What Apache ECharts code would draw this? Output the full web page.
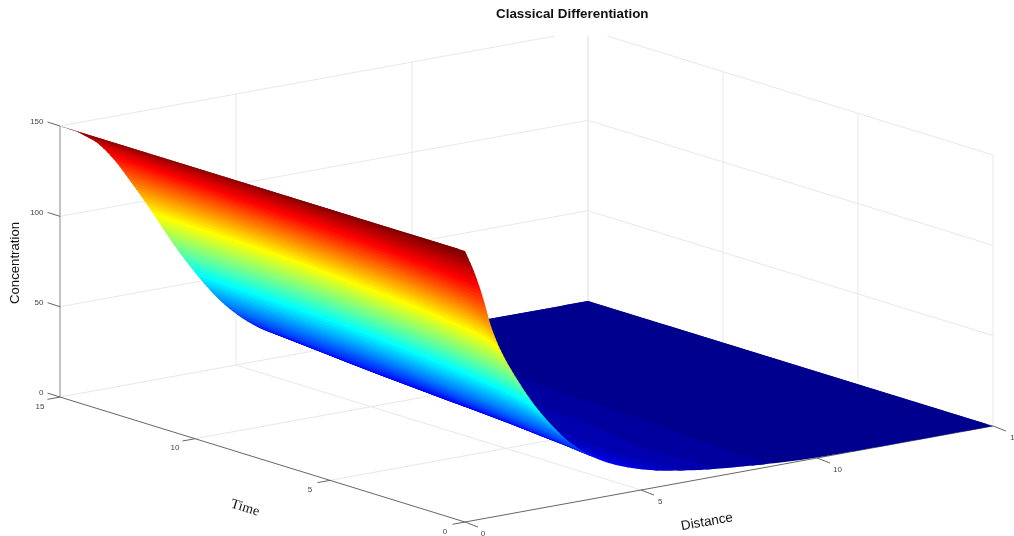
<!DOCTYPE html>
<html><head><meta charset="utf-8">
<style>html,body{margin:0;padding:0;background:#fff}#c{width:1014px;height:536px}</style>
<script src="https://cdn.jsdelivr.net/npm/echarts@6/dist/echarts.min.js"></script>
</head><body><div id="c"></div>
<script>
const chartTitle = 'Classical Differentiation';
const distanceTicks = [0, 5, 10, 15];
const timeTicks = [0, 5, 10, 15];
const concentrationTicks = [0, 50, 100, 150];
const distances = [0, .25, .5, .75, 1, 1.5, 2, 2.5, 3, 3.5, 4, 4.5, 5, 5.5, 6, 7, 8, 9, 10, 12, 15];
const times = [0, 1, 2.5, 5, 10, 15];
const concAtT0  = [150, 138, 123, 105, 92, 73, 57, 44, 33, 25, 19, 14.8, 11.5, 9, 7.2, 4.4, 2.6, 1.2, .3, 0, 0];
const concAtT1  = [150, 143, 130, 118, 107, 87, 68, 52, 39.5, 29, 20.5, 15.3, 11.5, 8.7, 6.8, 4.3, 2.7, 1.3, .4, 0, 0];
const concAtT2p5= [150, 146, 137, 127, 117, 98, 79, 61, 46.5, 33.5, 24, 17, 12, 8.8, 6.5, 4.2, 2.8, 1.4, .4, 0, 0];
const concAtT5  = [150, 147.3, 142, 135, 127, 110, 92.5, 74, 57, 42, 30, 21, 14.5, 10, 7.5, 5, 3, 1.6, .5, 0, 0];
const concAtT10 = [150, 147.5, 144.5, 140, 134, 121, 106, 91, 74, 58, 43, 31, 20.5, 14, 9.7, 6, 3.8, 2, .7, 0, 0];
const concAtT15 = [150, 147.5, 145, 141.5, 138, 127, 112.5, 97, 80.5, 65, 51, 38.5, 28.5, 20.5, 14.5, 7, 4, 2.4, .8, 0, 0];
const concRows = [concAtT0, concAtT1, concAtT2p5, concAtT5, concAtT10, concAtT15];

const dMax = 15, tMax = 15, cMax = 150, colourLevels = 64;
// view: orthographic projection of (distance, time, concentration) onto the hidden 2D axes
function project(d, t, c) {
  return [465 + 35.2 * d - 27 * t, 522 - 6.4 * d - 8.33 * t - 1.807 * c];
}
function jet(i) {
  const b = i < 8 ? .5625 + .0625 * i : i <= 23 ? 1 : i <= 39 ? 1 - .0625 * (i - 23) : 0;
  const g = i < 8 ? 0 : i <= 23 ? (i - 7) * .0625 : i <= 39 ? 1 : i <= 55 ? 1 - (i - 39) * .0625 : 0;
  const r = i <= 23 ? 0 : i <= 39 ? (i - 23) * .0625 : i <= 55 ? 1 : 1 - (i - 55) * .0625;
  return `rgb(${Math.round(r*255)},${Math.round(g*255)},${Math.round(b*255)})`;
}
// monotone cubic drawing helper: the surface between read values is shaded smoothly
function slopes(xs, ys) {
  const n = xs.length, h = [], s = [], m = new Array(n);
  for (let i = 0; i < n - 1; i++) { h[i] = xs[i + 1] - xs[i]; s[i] = (ys[i + 1] - ys[i]) / h[i]; }
  m[0] = s[0]; m[n - 1] = s[n - 2];
  for (let i = 1; i < n - 1; i++) {
    if (s[i - 1] * s[i] <= 0) m[i] = 0;
    else { const w1 = 2 * h[i] + h[i - 1], w2 = h[i] + 2 * h[i - 1]; m[i] = (w1 + w2) / (w1 / s[i - 1] + w2 / s[i]); }
  }
  return m;
}
function hermite(xs, ys, m, x) {
  let i = 0;
  while (i < xs.length - 2 && x > xs[i + 1]) i++;
  const h = xs[i + 1] - xs[i], u = (x - xs[i]) / h, u2 = u * u, u3 = u2 * u;
  return (2*u3 - 3*u2 + 1) * ys[i] + (u3 - 2*u2 + u) * h * m[i] + (-2*u3 + 3*u2) * ys[i + 1] + (u3 - u2) * h * m[i + 1];
}
const rowSlopes = concRows.map(r => slopes(distances, r));
function conc(d, t) {
  const ys = concRows.map((r, j) => hermite(distances, r, rowSlopes[j], d));
  return hermite(times, ys, slopes(times, ys), t);
}
// distance at which concentration falls to a colour-band boundary
const isoCache = new Map();
function isoDistance(level, t) {
  if (level <= 0) return dMax;
  if (level >= colourLevels) return 0;
  const key = level + '|' + t;
  if (isoCache.has(key)) return isoCache.get(key);
  const target = level * cMax / colourLevels;
  let lo = 0, hi = dMax;
  for (let i = 0; i < 18; i++) {
    const mid = (lo + hi) / 2;
    if (conc(mid, t) > target) lo = mid; else hi = mid;
  }
  const res = (lo + hi) / 2;
  isoCache.set(key, res);
  return res;
}

// grid lines on floor and back walls
const gridData = [];
distanceTicks.forEach(d => { if (d > 0) gridData.push([d, 0, 0, d, tMax, 0]); });
timeTicks.forEach(t => { if (t > 0) gridData.push([0, t, 0, dMax, t, 0]); });
distanceTicks.forEach(d => { if (d > 0) gridData.push([d, tMax, 0, d, tMax, cMax]); });
timeTicks.forEach(t => gridData.push([dMax, t, 0, dMax, t, cMax]));
concentrationTicks.forEach(c => {
  if (c > 0) {
    gridData.push([0, tMax, c, dMax, tMax, c]);
    gridData.push([dMax, tMax, c, dMax, 0, c]);
  }
});
const axisData = [
  [0, 0, 0, dMax, 0, 0], [0, 0, 0, 0, tMax, 0], [0, tMax, 0, 0, tMax, cMax]
];
// colour bands of the surface, far (low concentration) to near (high)
const bandData = [];
for (let k = 0; k < colourLevels; k++) bandData.push([k]);

const tickData = [];
concentrationTicks.forEach(c => tickData.push([0, tMax, c, -12.5, -4]));
timeTicks.forEach(t => tickData.push([0, t, 0, -12.5, 2.3]));
distanceTicks.forEach(d => tickData.push([d, 0, 0, 13, 5]));

const tickLabels = [];
concentrationTicks.forEach(c => tickLabels.push([0, tMax, c, String(c), -16.5, -4, 'right']));
timeTicks.forEach(t => tickLabels.push([0, t, 0, String(t), -20, 9.5, 'center']));
distanceTicks.forEach(d => tickLabels.push([d, 0, 0, String(d), 18 + d * .25, 11.5, 'center']));

const TOP_CLIP = 36;
function clipSeg(a, b) {
  const clip = (p, q) => {
    if (p[1] >= TOP_CLIP) return p;
    const f = (TOP_CLIP - p[1]) / (q[1] - p[1]);
    return [p[0] + (q[0] - p[0]) * f, TOP_CLIP];
  };
  return [clip(a, b), clip(b, a)];
}
function seg(api, color, width) {
  const a = api.coord(project(api.value(0), api.value(1), api.value(2)));
  const b = api.coord(project(api.value(3), api.value(4), api.value(5)));
  const [p, q] = clipSeg(a, b);
  return { type: 'line', shape: { x1: p[0], y1: p[1], x2: q[0], y2: q[1] },
    style: { stroke: color, lineWidth: width, fill: null } };
}
const chart = echarts.init(document.getElementById('c'), null, { renderer: 'canvas' });
chart.setOption({
  animation: false,
  backgroundColor: '#fff',
  title: { text: chartTitle, left: 496, top: 8, padding: 0,
    textStyle: { fontFamily: 'Liberation Sans', fontSize: 13.4, fontWeight: 'bold', color: '#111' } },
  grid: { left: 0, right: 0, top: 0, bottom: 0 },
  xAxis: { type: 'value', min: 0, max: 1014, show: false },
  yAxis: { type: 'value', min: 0, max: 536, inverse: true, show: false },
  series: [
    { type: 'custom', name: 'grid', z: 1, silent: true, clip: false, data: gridData,
      renderItem: (p, api) => seg(api, '#e8e8e8', 1) },
    { type: 'custom', name: 'axes', z: 2, silent: true, clip: false, data: axisData,
      renderItem: (p, api) => seg(api, api.value(5) === cMax ? '#888' : '#666', 1) },
    { type: 'custom', name: 'ticks', z: 2, silent: true, clip: false, data: tickData,
      renderItem: (p, api) => {
        const a = api.coord(project(api.value(0), api.value(1), api.value(2)));
        return { type: 'line', shape: { x1: a[0], y1: a[1], x2: a[0] + api.value(3), y2: a[1] + api.value(4) },
          style: { stroke: '#666', lineWidth: 1, fill: null } };
      } },
    { type: 'custom', name: 'Concentration surface', z: 3, silent: true, clip: false,
      progressive: 0, data: bandData,
      renderItem: (p, api) => {
        const k = api.value(0), col = jet(k), children = [];
        const P = (d, t) => api.coord(project(d, t, conc(d, t)));
        const step = 0.25, slices = Math.round(tMax / step);
        // each slice overlaps what was already painted behind it, so no seams show
        const farLevel = k === 0 ? 0 : k - 0.25;
        for (let s = slices - 1; s >= 0; s--) {
          const ta = s * step, tb = Math.min(tMax, (s + 2) * step);
          const nearA = isoDistance(k + 1, ta), farA = isoDistance(farLevel, ta);
          const nearB = isoDistance(k + 1, tb), farB = isoDistance(farLevel, tb);
          const n = Math.max(1, Math.min(30, Math.ceil(Math.max(farA - nearA, farB - nearB) / 0.1)));
          const pts = [];
          for (let i = 0; i <= n; i++) pts.push(P(nearA + (farA - nearA) * i / n, ta));
          for (let i = n; i >= 0; i--) pts.push(P(nearB + (farB - nearB) * i / n, tb));
          children.push({ type: 'polygon', shape: { points: pts },
            style: { fill: col, stroke: null, lineWidth: 0 } });
        }
        return { type: 'group', children };
      } },
    { type: 'custom', name: 'tick labels', z: 4, silent: true, clip: false, data: tickLabels,
      dimensions: ['d', 't', 'c', { name: 'label', type: 'ordinal' }, 'ox', 'oy', { name: 'align', type: 'ordinal' }],
      renderItem: (p, api) => {
        const row = tickLabels[p.dataIndex];
        const a = api.coord(project(row[0], row[1], row[2]));
        return { type: 'text', x: a[0] + row[4], y: a[1] + row[5],
          style: { text: row[3], fill: '#444', fontFamily: 'Liberation Sans', fontSize: 8,
            align: row[6], verticalAlign: 'middle' } };
      } }
  ],
  graphic: [
    { type: 'text', x: 15, y: 263, rotation: Math.PI / 2, z: 10, silent: true,
      style: { text: 'Concentration', fill: '#111', fontFamily: 'Liberation Sans', fontSize: 13.2, align: 'center', verticalAlign: 'middle' } },
    { type: 'text', x: 245, y: 508, rotation: -17 * Math.PI / 180, z: 10, silent: true,
      style: { text: 'Time', fill: '#111', fontFamily: 'Liberation Serif', fontSize: 14, align: 'center', verticalAlign: 'middle' } },
    { type: 'text', x: 707, y: 522, rotation: 10 * Math.PI / 180, z: 10, silent: true,
      style: { text: 'Distance', fill: '#111', fontFamily: 'Liberation Sans', fontSize: 13.5, align: 'center', verticalAlign: 'middle' } }
  ]
});
</script></body></html>
